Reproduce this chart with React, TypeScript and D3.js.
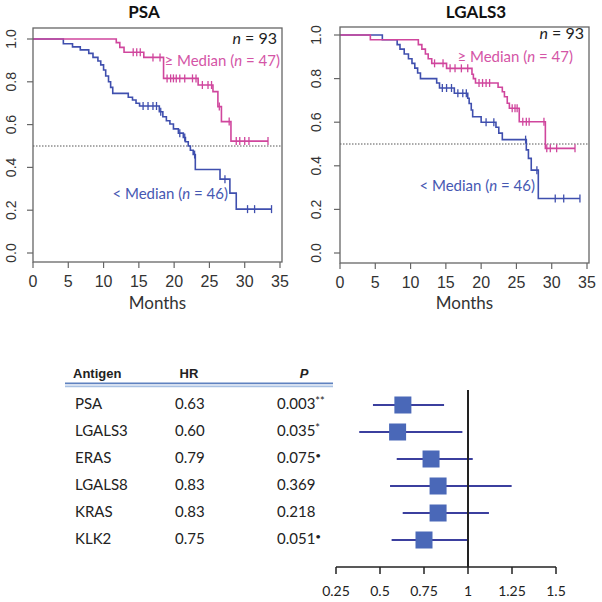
import React from "react";
import * as d3 from "d3";

// ---------- Data ----------
const monthTicks = [0, 5, 10, 15, 20, 25, 30, 35];
const survTicks = [0, 0.2, 0.4, 0.6, 0.8, 1.0];

// PSA: [month, survival after event]
const psaLowSteps: [number, number][] = [
  [4.3, 0.978], [5.6, 0.963], [6.7, 0.949], [7.9, 0.933], [8.5, 0.914], [9.2, 0.897],
  [9.6, 0.879], [10.0, 0.855], [10.3, 0.827], [10.7, 0.8], [11.0, 0.774], [11.3, 0.746],
  [13.5, 0.728], [14.1, 0.715], [14.6, 0.7], [15.1, 0.687], [17.9, 0.66], [18.4, 0.637],
  [18.9, 0.618], [19.4, 0.603], [19.9, 0.58], [20.6, 0.56], [21.3, 0.54], [21.6, 0.52],
  [22.0, 0.5], [22.3, 0.48], [22.7, 0.46], [23.0, 0.39], [26.5, 0.345], [27.9, 0.28], [28.8, 0.205],
];
const psaLowCensor = [15.6, 16.3, 17.0, 17.5, 18.1, 20.8, 21.5, 22.9, 27.2, 30.4, 31.4, 33.8];
const psaHighSteps: [number, number][] = [
  [11.8, 0.983], [12.3, 0.961], [12.9, 0.938], [15.7, 0.914], [18.5, 0.816], [23.4, 0.785],
  [25.5, 0.754], [26.2, 0.684], [26.7, 0.614], [28.05, 0.523],
];
const psaHighCensor = [
  14.2, 14.7, 15.2, 17.0, 18.0, 19.0, 19.5, 19.9, 20.3, 20.8, 21.5, 22.6, 23.1, 24.0, 24.8,
  25.3, 26.4, 27.8, 28.8, 29.3, 30.0, 30.6, 33.3,
];

// LGALS3
const lgLowSteps: [number, number][] = [
  [6.0, 0.978], [8.1, 0.956], [8.5, 0.935], [9.1, 0.913], [9.7, 0.891], [10.2, 0.87],
  [10.6, 0.848], [11.0, 0.826], [11.4, 0.8], [13.7, 0.78], [14.1, 0.757], [16.2, 0.733],
  [18.1, 0.71], [18.3, 0.686], [18.6, 0.656], [18.8, 0.625], [20.0, 0.6], [22.1, 0.577],
  [22.5, 0.55], [23.0, 0.52], [26.4, 0.473], [26.7, 0.434], [27.1, 0.38], [28.1, 0.25],
];
const lgLowCensor = [14.5, 15.1, 15.8, 16.7, 17.4, 17.9, 20.7, 21.8, 26.3, 27.9, 30.5, 31.7, 34.0];
const lgHighSteps: [number, number][] = [
  [4.3, 0.978], [11.1, 0.956], [11.6, 0.935], [12.1, 0.913], [12.5, 0.891], [13.0, 0.87],
  [15.1, 0.847], [18.7, 0.82], [18.9, 0.8], [19.2, 0.78], [22.4, 0.76], [23.0, 0.74],
  [23.3, 0.717], [23.7, 0.687], [24.0, 0.664], [25.4, 0.602], [29.1, 0.48],
];
const lgHighCensor = [
  13.4, 14.6, 15.6, 16.3, 17.2, 18.1, 19.7, 20.2, 20.7, 21.2, 24.4, 24.8, 25.1, 25.9, 26.4,
  26.8, 28.9, 29.3, 29.8, 30.7, 33.3,
];

// Forest plot
const antigens = ["PSA", "LGALS3", "ERAS", "LGALS8", "KRAS", "KLK2"];
const hrValues = [0.63, 0.6, 0.79, 0.83, 0.83, 0.75];
const pValues = ["0.003", "0.035", "0.075", "0.369", "0.218", "0.051"];
const pMarks = ["**", "*", "•", "", "", "•"];
const ciLow = [0.46, 0.382, 0.595, 0.557, 0.629, 0.566];
const ciHigh = [0.864, 0.968, 1.027, 1.248, 1.119, 1.0];
const hrTicks = [0.25, 0.5, 0.75, 1, 1.25, 1.5];

// ---------- Styles ----------
const SANS = "Lato, 'Open Sans', sans-serif";
const ARIAL = "'Liberation Sans', Arial, sans-serif";
const BLUE = "#3f4fae";
const MAGENTA = "#d0469d";
const BLUE_TXT = "#4658b2";
const MAG_TXT = "#d455a6";
const AXIS = "#666";

function survAt(steps: [number, number][], t: number) {
  let s = 1;
  for (const [ts, v] of steps) if (ts <= t) s = v;
  return s;
}

type PanelProps = {
  title: string;
  titleX: number;
  left: number;
  right: number;
  top: number;
  bottom: number;
  y1px: number;
  y0px: number;
  yLabelX: number;
  low: [number, number][];
  lowC: number[];
  high: [number, number][];
  highC: number[];
  nY: number;
  highLabel: [number, number];
  lowLabel: [number, number];
};

function KMPanel(p: PanelProps) {
  const x = d3.scaleLinear().domain([0, 35]).range([p.left, p.right - 2]);
  const y = d3.scaleLinear().domain([0, 1]).range([p.y0px, p.y1px]);
  const line = d3
    .line<[number, number]>()
    .x((d) => x(d[0]))
    .y((d) => y(d[1]))
    .curve(d3.curveStepAfter);
  const curve = (steps: [number, number][], cens: number[]) => {
    const end = Math.max(...cens, steps[steps.length - 1][0]);
    const pts: [number, number][] = [[0, 1], ...steps, [end, steps[steps.length - 1][1]]];
    return line(pts) || "";
  };
  const ticks = (steps: [number, number][], cens: number[], color: string) =>
    cens.map((c, i) => {
      const yy = y(survAt(steps, c));
      return <line key={i} x1={x(c)} x2={x(c)} y1={yy - 4} y2={yy + 4} stroke={color} strokeWidth={1.3} />;
    });
  const mid = (p.left + p.right) / 2;
  return (
    <g>
      <text x={p.titleX} y={14} textAnchor="middle" dominantBaseline="middle" fontFamily={SANS} fontWeight="bold" fontSize={17} fill="#111">
        {p.title}
      </text>
      {/* median dotted line */}
      <line x1={p.left} x2={p.right} y1={y(0.5)} y2={y(0.5)} stroke="#555" strokeWidth={1} strokeDasharray="1.5,1.5" />
      {/* curves */}
      <path d={curve(p.low, p.lowC)} fill="none" stroke={BLUE} strokeWidth={1.6} />
      {ticks(p.low, p.lowC, BLUE)}
      <path d={curve(p.high, p.highC)} fill="none" stroke={MAGENTA} strokeWidth={1.6} />
      {ticks(p.high, p.highC, MAGENTA)}
      {/* box */}
      <rect x={p.left} y={p.top} width={p.right - p.left} height={p.bottom - p.top} fill="none" stroke={AXIS} strokeWidth={1.3} />
      {/* y axis */}
      {survTicks.map((t) => (
        <g key={t}>
          <line x1={p.left - 6} x2={p.left} y1={y(t)} y2={y(t)} stroke={AXIS} strokeWidth={1.2} />
          <text
            transform={`translate(${p.yLabelX},${y(t)}) rotate(-90)`}
            textAnchor="middle"
            dominantBaseline="middle"
            fontFamily={ARIAL}
            fontSize={14}
            fill="#333"
          >
            {d3.format(".1f")(t)}
          </text>
        </g>
      ))}
      {/* x axis */}
      {monthTicks.map((t) => (
        <g key={t}>
          <line x1={x(t)} x2={x(t)} y1={p.bottom} y2={p.bottom + 6} stroke={AXIS} strokeWidth={1.2} />
          <text x={x(t)} y={p.bottom + 21} textAnchor="middle" dominantBaseline="middle" fontFamily={ARIAL} fontSize={16} fill="#333">
            {t}
          </text>
        </g>
      ))}
      <text x={mid} y={305} textAnchor="middle" dominantBaseline="middle" fontFamily={SANS} fontSize={17} fill="#333">
        Months
      </text>
      {/* labels */}
      <text x={p.right - 5} y={p.nY} textAnchor="end" dominantBaseline="middle" fontFamily={SANS} fontSize={16} fill="#222">
        <tspan fontStyle="italic">n</tspan>
        {" = 93"}
      </text>
      <text x={p.highLabel[0]} y={p.highLabel[1]} textAnchor="end" dominantBaseline="middle" fontFamily={SANS} fontSize={15} fill={MAG_TXT}>
        {"≥ Median ("}
        <tspan fontStyle="italic">n</tspan>
        {" = 47)"}
      </text>
      <text x={p.lowLabel[0]} y={p.lowLabel[1]} textAnchor="end" dominantBaseline="middle" fontFamily={SANS} fontSize={15} fill={BLUE_TXT}>
        {"< Median ("}
        <tspan fontStyle="italic">n</tspan>
        {" = 46)"}
      </text>
    </g>
  );
}

function Forest() {
  const x = d3.scaleLinear().domain([0.25, 1.5]).range([336, 556]);
  const y = d3.scalePoint<string>().domain(antigens).range([405, 540]);
  const axisY = 567;
  const sq = 17;
  return (
    <g>
      <text x={73} y={375} dominantBaseline="middle" fontFamily={ARIAL} fontWeight="bold" fontSize={13} fill="#222">
        Antigen
      </text>
      <text x={189} y={375} textAnchor="middle" dominantBaseline="middle" fontFamily={ARIAL} fontWeight="bold" fontSize={13} fill="#222">
        HR
      </text>
      <text x={304} y={375} textAnchor="middle" dominantBaseline="middle" fontFamily={ARIAL} fontWeight="bold" fontStyle="italic" fontSize={13} fill="#222">
        P
      </text>
      <line x1={65} x2={333} y1={383.3} y2={383.3} stroke="#5f82c0" strokeWidth={1.8} />
      <line x1={65} x2={333} y1={386.3} y2={386.3} stroke="#a9c1e3" strokeWidth={1.8} />
      {antigens.map((a, i) => {
        const yy = y(a) as number;
        return (
          <g key={a}>
            <text x={75} y={yy} dominantBaseline="middle" fontFamily={SANS} fontSize={15} fill="#222">
              {a}
            </text>
            <text x={175} y={yy} dominantBaseline="middle" fontFamily={SANS} fontSize={15} fill="#222">
              {d3.format(".2f")(hrValues[i])}
            </text>
            <text x={277} y={yy} dominantBaseline="middle" fontFamily={SANS} fontSize={15} fill="#222">
              {pValues[i]}
              {pMarks[i] && (
                <tspan fontSize={pMarks[i] === "•" ? 10 : 11} dy={-3}>
                  {pMarks[i]}
                </tspan>
              )}
            </text>
            <line x1={x(ciLow[i])} x2={x(ciHigh[i])} y1={yy} y2={yy} stroke="#3b3f9e" strokeWidth={2} />
            <rect x={x(hrValues[i]) - sq / 2} y={yy - sq / 2} width={sq} height={sq} fill="#4a68b8" />
          </g>
        );
      })}
      <line x1={x(1)} x2={x(1)} y1={390} y2={axisY} stroke="#222" strokeWidth={2} />
      <line x1={x(0.25)} x2={x(1.5)} y1={axisY} y2={axisY} stroke="#222" strokeWidth={1.5} />
      {hrTicks.map((t) => (
        <g key={t}>
          <line x1={x(t)} x2={x(t)} y1={axisY} y2={axisY + 7} stroke="#222" strokeWidth={1.5} />
          <text x={x(t)} y={592} textAnchor="middle" dominantBaseline="middle" fontFamily={SANS} fontSize={14} fill="#222">
            {String(t)}
          </text>
        </g>
      ))}
    </g>
  );
}

export default function App() {
  return (
    <svg width={602} height={602} style={{ position: "absolute", left: 0, top: 0, background: "#fff" }}>
      <rect width={602} height={602} fill="#fff" />
      <KMPanel
        title="PSA"
        titleX={144}
        left={33}
        right={282}
        top={28}
        bottom={262}
        y1px={39}
        y0px={253}
        yLabelX={12}
        low={psaLowSteps}
        lowC={psaLowCensor}
        high={psaHighSteps}
        highC={psaHighCensor}
        nY={40}
        highLabel={[280, 62]}
        lowLabel={[228, 195]}
      />
      <KMPanel
        title="LGALS3"
        titleX={476}
        left={340}
        right={589}
        top={27}
        bottom={263}
        y1px={35}
        y0px={253}
        yLabelX={317}
        low={lgLowSteps}
        lowC={lgLowCensor}
        high={lgHighSteps}
        highC={lgHighCensor}
        nY={35}
        highLabel={[573, 58]}
        lowLabel={[535, 187]}
      />
      <Forest />
    </svg>
  );
}
